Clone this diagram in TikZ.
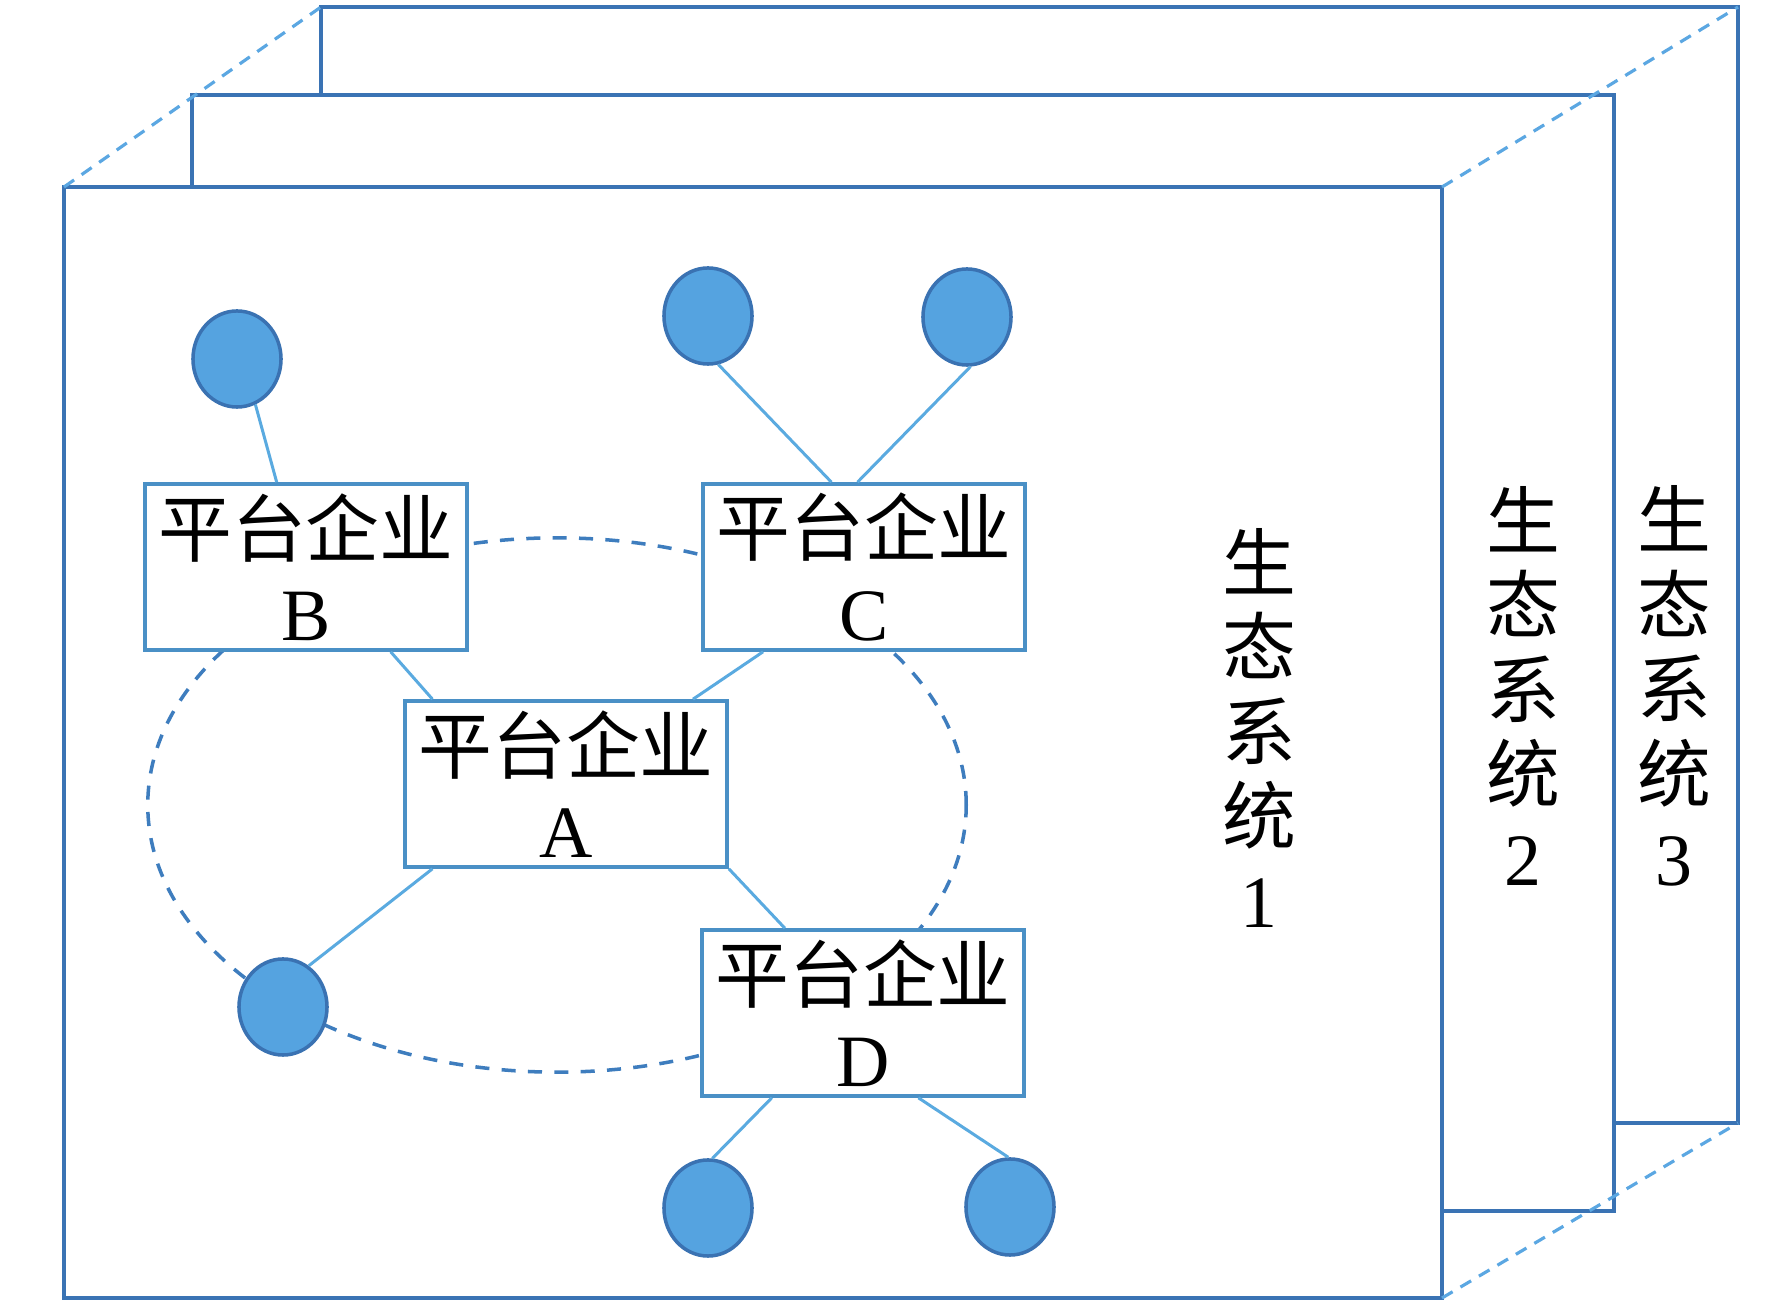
\documentclass[tikz,border=0pt]{standalone}
\usepackage{fontspec}
\setmainfont{Liberation Serif}
\newfontfamily\cjk{Noto Sans CJK SC}
\usepackage{tikz}
\usetikzlibrary{calc,shapes.geometric}
\definecolor{panelblue}{HTML}{3A73B4}
\definecolor{dashblue}{HTML}{5BA7E2}
\definecolor{boxblue}{HTML}{4A90C6}
\definecolor{linkblue}{HTML}{5AAAE0}
\definecolor{ringblue}{HTML}{3E7DBE}
\definecolor{dotfill}{HTML}{55A3E0}
\definecolor{dotdraw}{HTML}{3A72B2}

\begin{document}
\begin{tikzpicture}[
    x=0.01cm, y=-0.01cm,
    panel/.style={draw=panelblue, line width=1.1pt, fill=white},
    depth/.style={draw=dashblue, line width=0.9pt, dash pattern=on 3.5pt off 2.6pt},
    firm/.style={draw=boxblue, line width=1pt, fill=white, minimum width=32.2mm, minimum height=16.6mm, inner sep=0pt, align=center, font=\cjk\fontsize{21}{24}\selectfont},
    user/.style={ellipse, draw=dotdraw, line width=1pt, fill=dotfill, minimum width=8.8mm, minimum height=9.6mm, inner sep=0pt},
    link/.style={draw=linkblue, line width=0.85pt},
    ring/.style={draw=ringblue, line width=1pt, dash pattern=on 4pt off 3.5pt},
    eco/.style={align=center, inner sep=0pt, font=\cjk\fontsize{21}{24}\selectfont}
]
\useasboundingbox (0,0) rectangle (1772,1310);

\draw[panel] (321,7) rectangle (1738,1123);
\draw[panel] (192,95) rectangle (1614,1211);
\draw[panel] (64,187) rectangle (1442,1298);

\draw[depth] (64,187) -- (321,7);
\draw[depth] (1442,187) -- (1738,7);
\draw[depth] (1442,1298) -- (1738,1123);

\node[eco] (eco1) at (1259,728) {生\\态\\系\\统\\{\rmfamily 1}};
\node[eco] (eco2) at (1523,686) {生\\态\\系\\统\\{\rmfamily 2}};
\node[eco] (eco3) at (1674,686) {生\\态\\系\\统\\{\rmfamily 3}};

\draw[ring] (557,805) ellipse [x radius=4.09cm, y radius=2.67cm];

\node[firm] (B) at (306,567) {平台企业\\{\rmfamily B}};
\node[firm] (C) at (864,567) {平台企业\\{\rmfamily C}};
\node[firm] (A) at (566,784) {平台企业\\{\rmfamily A}};
\node[firm] (D) at (863,1013) {平台企业\\{\rmfamily D}};

\node[user] (u1) at (237,359) {};
\node[user] (u2) at (708,316) {};
\node[user] (u3) at (967,317) {};
\node[user] (u4) at (283,1007) {};
\node[user] (u5) at (708,1208) {};
\node[user] (u6) at (1010,1207) {};

\draw[link] (u1.-68) -- ($(B.north west)!0.41!(B.north east)$);
\draw[link] (u2.-78) -- ($(C.north west)!0.40!(C.north east)$);
\draw[link] (u3.-86) -- ($(C.north west)!0.48!(C.north east)$);
\draw[link] ($(B.south west)!0.76!(B.south east)$) -- ($(A.north west)!0.09!(A.north east)$);
\draw[link] ($(C.south west)!0.19!(C.south east)$) -- ($(A.north west)!0.89!(A.north east)$);
\draw[link] ($(A.south west)!0.09!(A.south east)$) -- (u4.58);
\draw[link] (A.south east) -- ($(D.north west)!0.26!(D.north east)$);
\draw[link] ($(D.south west)!0.22!(D.south east)$) -- (u5.85);
\draw[link] ($(D.south west)!0.67!(D.south east)$) -- (u6.92);
\end{tikzpicture}
\end{document}
